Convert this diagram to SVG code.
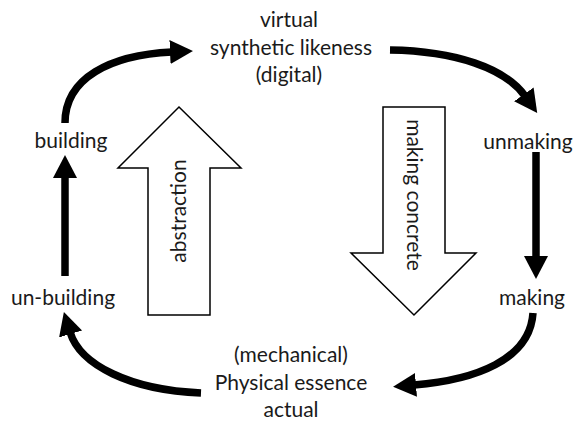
<svg xmlns="http://www.w3.org/2000/svg" width="578" height="423" viewBox="0 0 578 423">
  <style>
    .lbl { font-family: Lato, "Open Sans", "DejaVu Sans", sans-serif; font-size: 21px; fill: #1a1a1a; text-anchor: middle; }
    .flow { fill: none; stroke: #000; stroke-width: 7.5; }
    .big { fill: #fff; stroke: #000; stroke-width: 1.5; stroke-linejoin: miter; }
  </style>
  <defs>
    <marker id="head" markerUnits="userSpaceOnUse" markerWidth="24" markerHeight="26" viewBox="0 0 24 26" refX="2" refY="13" orient="auto">
      <path d="M0,1 L23,13 L0,25 Z" fill="#000"/>
    </marker>
  </defs>
  <rect width="578" height="423" fill="#fff"/>

  <!-- large outline arrows -->
  <g id="abstraction">
    <path class="big" d="M179,107 L241,168 L210,168 L210,315 L148,315 L148,168 L118,168 Z"/>
    <text class="lbl" transform="translate(186,211) rotate(-90)">abstraction</text>
  </g>
  <g id="making-concrete">
    <path class="big" d="M383,107 L445,107 L445,253 L476,253 L414,315 L351,253 L383,253 Z"/>
    <text class="lbl" transform="translate(407,195) rotate(90)">making concrete</text>
  </g>

  <!-- cycle connectors -->
  <g id="connectors">
    <path class="flow" marker-end="url(#head)" d="M65,123 C65,78 110,55 172,52"/>
    <path class="flow" marker-end="url(#head)" d="M390,50 C455,51 505,68 525,96"/>
    <path class="flow" marker-end="url(#head)" d="M536,152 L536,258"/>
    <path class="flow" marker-end="url(#head)" d="M533,313 C530,360 475,380 414,385"/>
    <path class="flow" marker-end="url(#head)" d="M201,393 C130,390 80,365 70,332"/>
    <path class="flow" marker-end="url(#head)" d="M65,276 L65,176"/>
  </g>

  <!-- states -->
  <g id="virtual">
    <text class="lbl" x="289" y="27">virtual</text>
    <text class="lbl" x="291" y="55">synthetic likeness</text>
    <text class="lbl" x="289" y="82">(digital)</text>
  </g>
  <g id="building"><text class="lbl" x="71" y="148">building</text></g>
  <g id="unmaking"><text class="lbl" x="528" y="149">unmaking</text></g>
  <g id="un-building"><text class="lbl" x="63" y="305">un-building</text></g>
  <g id="making"><text class="lbl" x="532" y="305">making</text></g>
  <g id="physical">
    <text class="lbl" x="291" y="362">(mechanical)</text>
    <text class="lbl" x="291" y="390">Physical essence</text>
    <text class="lbl" x="291" y="417">actual</text>
  </g>
</svg>
